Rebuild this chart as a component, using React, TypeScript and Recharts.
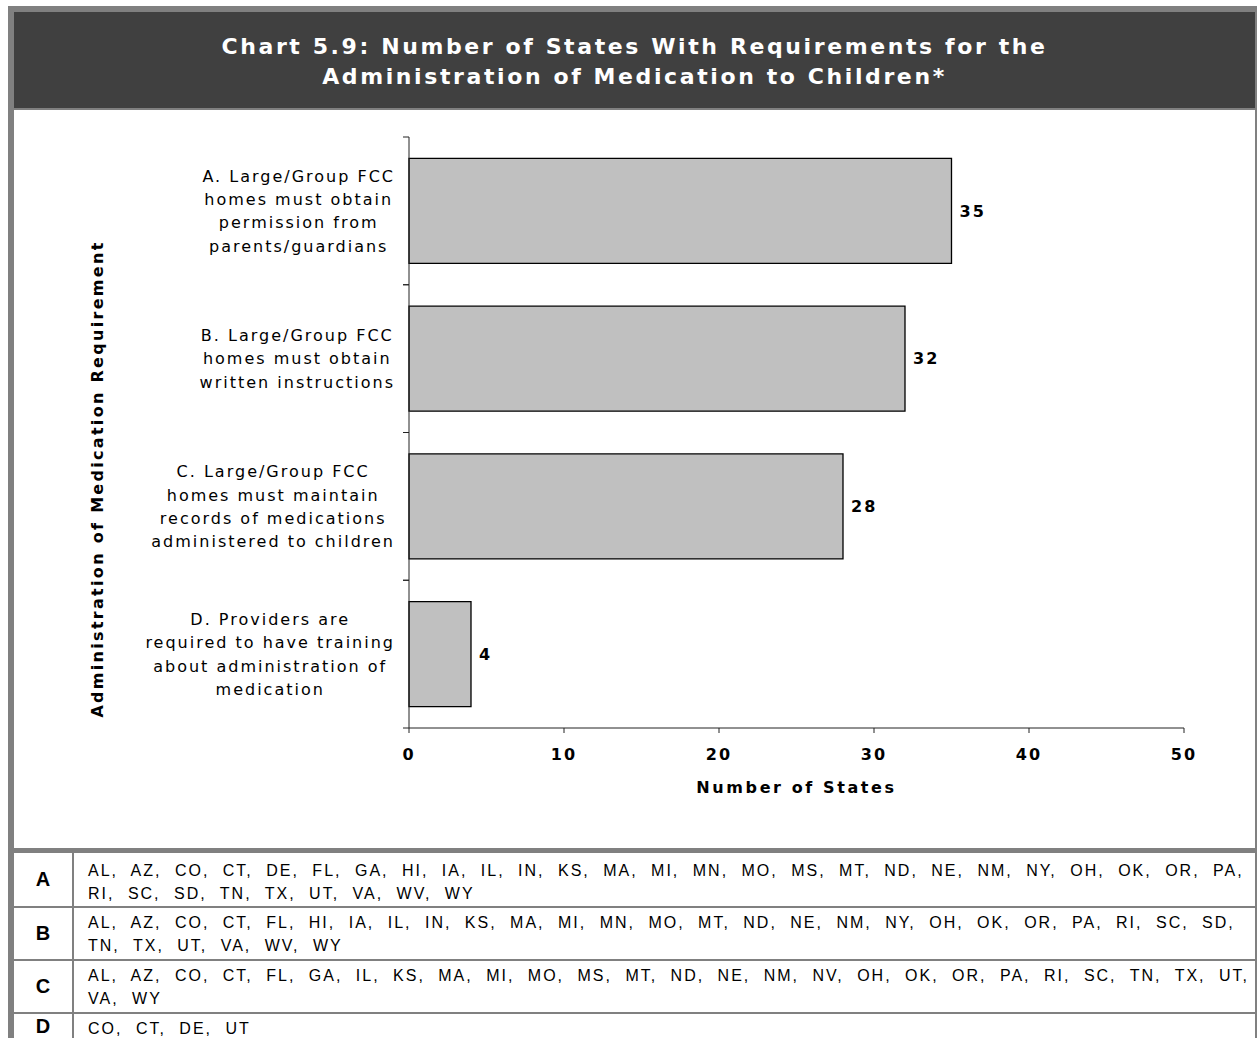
import { BarChart, Bar, XAxis, YAxis, LabelList, Label } from 'recharts';

const TITLE_LINES = [
  'Chart 5.9: Number of States With Requirements for the',
  'Administration of Medication to Children*',
];

const CATEGORY_KEYS = ['A', 'B', 'C', 'D'];
const CATEGORY_LINES = [
  ['A. Large/Group FCC', 'homes must obtain', 'permission from', 'parents/guardians'],
  ['B. Large/Group FCC', 'homes must obtain', 'written instructions'],
  ['C. Large/Group FCC', 'homes must maintain', 'records of medications', 'administered to children'],
  ['D. Providers are', 'required to have training', 'about administration of', 'medication'],
];
const STATE_COUNTS = [35, 32, 28, 4];
const X_TICKS = [0, 10, 20, 30, 40, 50];

const STATES_A = ['AL', 'AZ', 'CO', 'CT', 'DE', 'FL', 'GA', 'HI', 'IA', 'IL', 'IN', 'KS', 'MA', 'MI', 'MN', 'MO', 'MS', 'MT', 'ND', 'NE', 'NM', 'NY', 'OH', 'OK', 'OR', 'PA', 'RI', 'SC', 'SD', 'TN', 'TX', 'UT', 'VA', 'WV', 'WY'];
const STATES_B = ['AL', 'AZ', 'CO', 'CT', 'FL', 'HI', 'IA', 'IL', 'IN', 'KS', 'MA', 'MI', 'MN', 'MO', 'MT', 'ND', 'NE', 'NM', 'NY', 'OH', 'OK', 'OR', 'PA', 'RI', 'SC', 'SD', 'TN', 'TX', 'UT', 'VA', 'WV', 'WY'];
const STATES_C = ['AL', 'AZ', 'CO', 'CT', 'FL', 'GA', 'IL', 'KS', 'MA', 'MI', 'MO', 'MS', 'MT', 'ND', 'NE', 'NM', 'NV', 'OH', 'OK', 'OR', 'PA', 'RI', 'SC', 'TN', 'TX', 'UT', 'VA', 'WY'];
const STATES_D = ['CO', 'CT', 'DE', 'UT'];
const STATE_LISTS = [STATES_A, STATES_B, STATES_C, STATES_D];
// how many states fit on the first printed line of each row
const FIRST_LINE_COUNTS = [26, 26, 26, 4];

const chartData = CATEGORY_KEYS.map((key, i) => ({ key, value: STATE_COUNTS[i] }));

const CHART_FONT = '"DejaVu Sans", Verdana, sans-serif';
const TABLE_FONT = '"Liberation Sans", Arial, sans-serif';
const GRID_GRAY = '#808080';
const AXIS_COLOR = '#222';
const CAT_SPACING = 2;

let measureCtx: CanvasRenderingContext2D | null = null;
const measure = (s: string) => {
  if (!measureCtx) {
    measureCtx = document.createElement('canvas').getContext('2d');
    if (measureCtx) measureCtx.font = '16px "DejaVu Sans"';
  }
  const w = measureCtx ? measureCtx.measureText(s).width : s.length * 9;
  return w + s.length * CAT_SPACING;
};

// Excel style: lines centred inside a block that is right aligned near the axis
const CategoryTick = (props: any) => {
  const { x, y, payload } = props;
  const idx = CATEGORY_KEYS.indexOf(payload.value);
  const lines = CATEGORY_LINES[idx] || [];
  const half = payload.offset || 74;
  const lineH = 23.3;
  const startY = y - ((lines.length - 1) * lineH) / 2;
  const blockW = Math.max(...lines.map(measure));
  const cx = x - 14 - blockW / 2;
  return (
    <g>
      <line x1={x - 6} x2={x} y1={y - half} y2={y - half} stroke={AXIS_COLOR} />
      <line x1={x - 6} x2={x} y1={y + half} y2={y + half} stroke={AXIS_COLOR} />
      <text
        textAnchor="middle"
        fontSize={16}
        fontFamily={CHART_FONT}
        letterSpacing={CAT_SPACING}
        fill="#000"
      >
        {lines.map((line, i) => (
          <tspan key={i} x={cx} y={startY + i * lineH + 5.8}>
            {line}
          </tspan>
        ))}
      </text>
    </g>
  );
};

const boldText = {
  fontSize: 16,
  fontWeight: 700,
  fontFamily: CHART_FONT,
  letterSpacing: 2,
  fill: '#000',
};

const MedicationChart = () => (
  <BarChart
    width={1241}
    height={738}
    data={chartData}
    layout="vertical"
    margin={{ top: 27, right: 71, left: 0, bottom: 0 }}
    barCategoryGap="14.5%"
  >
    <XAxis
      type="number"
      domain={[0, 50]}
      ticks={X_TICKS}
      height={120}
      tickSize={5}
      tickMargin={16}
      stroke={AXIS_COLOR}
      tick={boldText}
      interval={0}
    >
      <Label
        content={(p: any) => {
          const vb = p.viewBox || { x: 395, y: 618, width: 775 };
          return (
            <text
              x={vb.x + vb.width / 2}
              y={vb.y + 65}
              textAnchor="middle"
              {...boldText}
              letterSpacing={2.6}
            >
              Number of States
            </text>
          );
        }}
      />
    </XAxis>
    <YAxis
      type="category"
      dataKey="key"
      width={395}
      tickSize={0}
      tickMargin={0}
      tickLine={false}
      stroke={AXIS_COLOR}
      tick={<CategoryTick />}
      interval={0}
    >
      <Label
        content={() => {
          const cy = 738 / 2;
          return (
            <text
              x={83}
              y={cy}
              transform={`rotate(-90, 83, ${cy})`}
              textAnchor="middle"
              dominantBaseline="central"
              {...boldText}
              letterSpacing={2.3}
            >
              Administration of Medication Requirement
            </text>
          );
        }}
      />
    </YAxis>
    <Bar
      dataKey="value"
      fill="#c0c0c0"
      stroke="#000"
      strokeWidth={1.3}
      isAnimationActive={false}
    >
      <LabelList dataKey="value" position="right" offset={8} style={boldText} />
    </Bar>
  </BarChart>
);

const StateTable = () => (
  <div style={{ position: 'absolute', left: 14, top: 853, width: 1241, fontFamily: TABLE_FONT }}>
    {CATEGORY_KEYS.map((key, i) => {
      const states = STATE_LISTS[i];
      const n = FIRST_LINE_COUNTS[i];
      const first = states.slice(0, n).join(', ') + (n < states.length ? ',' : '');
      const rest = states.slice(n).join(', ');
      const height = i === 0 ? 53 : i === 3 ? 40 : 51;
      return (
        <div
          key={key}
          style={{
            display: 'flex',
            height,
            borderBottom: i < 3 ? `2px solid ${GRID_GRAY}` : 'none',
          }}
        >
          <div
            style={{
              width: 58,
              borderRight: `2px solid ${GRID_GRAY}`,
              display: 'flex',
              alignItems: i === 3 ? 'flex-start' : 'center',
              justifyContent: 'center',
              fontWeight: 700,
              fontSize: 20,
              paddingTop: i === 3 ? 1 : 0,
            }}
          >
            {key}
          </div>
          <div
            style={{
              paddingLeft: 14,
              paddingTop: i === 0 ? 6 : 3,
              fontSize: 16,
              lineHeight: '23px',
              letterSpacing: 2,
              wordSpacing: 7,
              color: '#000',
              whiteSpace: 'nowrap',
            }}
          >
            <div>{first}</div>
            {rest && <div>{rest}</div>}
          </div>
        </div>
      );
    })}
  </div>
);

export default function App() {
  return (
    <div
      style={{
        position: 'absolute',
        left: 0,
        top: 0,
        width: 1257,
        height: 1038,
        overflow: 'hidden',
        background: '#fff',
      }}
    >
      <div style={{ position: 'absolute', left: 8, top: 6, width: 1249, height: 6, background: GRID_GRAY }} />
      <div style={{ position: 'absolute', left: 8, top: 6, width: 6, height: 1032, background: GRID_GRAY }} />
      <div style={{ position: 'absolute', left: 1255, top: 12, width: 2, height: 1026, background: GRID_GRAY }} />
      <div
        style={{
          position: 'absolute',
          left: 14,
          top: 12,
          width: 1241,
          height: 96,
          boxSizing: 'border-box',
          background: '#404040',
          color: '#fff',
          fontFamily: CHART_FONT,
          fontWeight: 700,
          fontSize: 22,
          letterSpacing: 2.6,
          lineHeight: '30px',
          textAlign: 'center',
          paddingTop: 20,
        }}
      >
        {TITLE_LINES.map((line) => (
          <div key={line} style={{ height: 30 }}>{line}</div>
        ))}
      </div>
      <div style={{ position: 'absolute', left: 14, top: 108, width: 1241, height: 2, background: GRID_GRAY }} />
      <div style={{ position: 'absolute', left: 14, top: 110 }}>
        <MedicationChart />
      </div>
      <div style={{ position: 'absolute', left: 14, top: 848, width: 1241, height: 5, background: GRID_GRAY }} />
      <StateTable />
    </div>
  );
}
